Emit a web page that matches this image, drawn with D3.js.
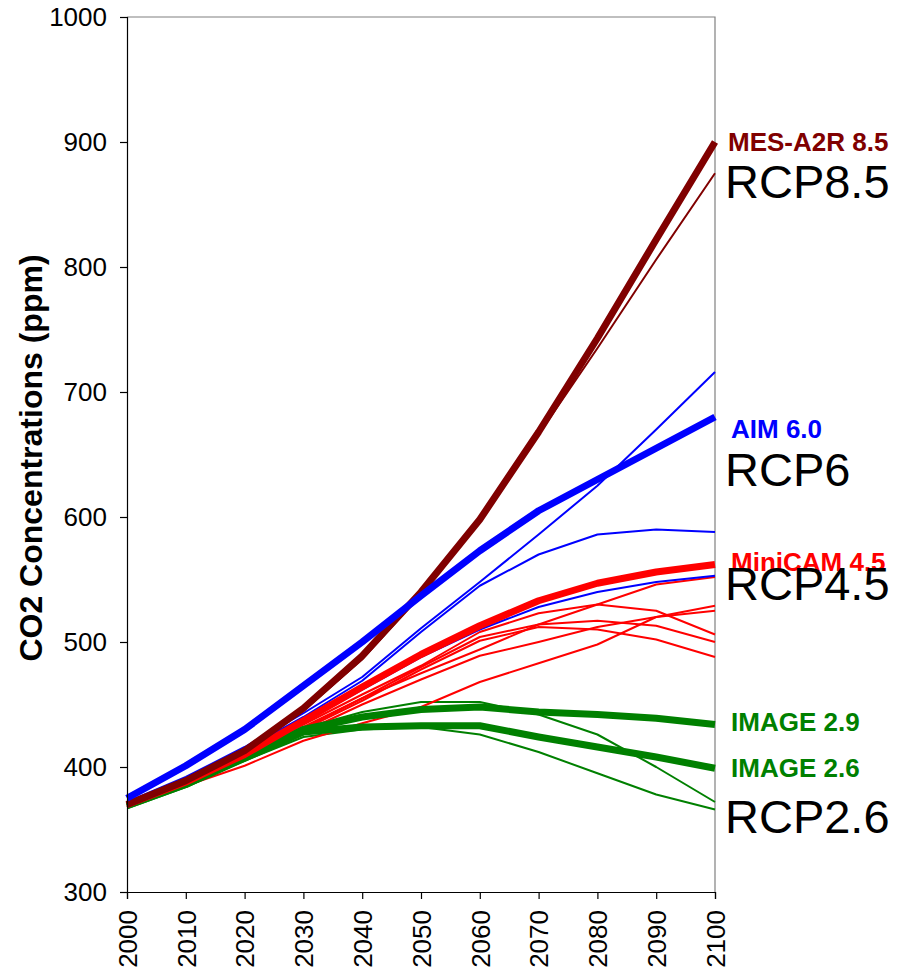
<!DOCTYPE html>
<html>
<head>
<meta charset="utf-8">
<script src="https://cdn.jsdelivr.net/npm/d3@7"></script>
<style>
  html, body { margin: 0; padding: 0; background: #fff; }
  svg { display: block; font-family: Arial, "Liberation Sans", sans-serif; }
</style>
</head>
<body>
<svg id="chart" width="900" height="974"></svg>
<script>
// Decades of the projection period
const years = [2000, 2010, 2020, 2030, 2040, 2050, 2060, 2070, 2080, 2090, 2100];
const yTicks = [300, 400, 500, 600, 700, 800, 900, 1000];

// Marker scenarios (thick lines), CO2 concentration in ppm
const mesA2R85   = [370, 389, 413, 447, 489, 540, 598, 668, 743, 822, 900];
const aim60      = [375, 401, 430, 465, 500, 537, 573, 605, 630, 655, 680];
const miniCam45  = [370, 388, 410, 437, 464, 490, 513, 533, 547, 556, 562];
const image29    = [369, 386, 408, 430, 440, 446, 448, 444, 442, 439, 434];
const image26    = [369, 386, 407, 428, 432, 433, 433, 424, 416, 408, 399];

// Other model runs in each family (thin lines)
const rcp85Other = [369, 388, 412, 445, 486, 538, 597, 666, 735, 806, 875];
const rcp6OtherA = [372, 392, 416, 443, 472, 511, 548, 586, 625, 670, 716];
const rcp6OtherB = [371, 391, 414, 440, 469, 508, 545, 570, 586, 590, 588];
const rcp6OtherC = [370, 388, 410, 436, 462, 488, 510, 528, 540, 548, 553];
const rcp45OtherA = [369, 387, 408, 432, 455, 475, 494, 514, 530, 546, 552];
const rcp45OtherB = [369, 387, 409, 434, 458, 481, 508, 523, 530, 525, 506];
const rcp45OtherC = [369, 386, 407, 431, 455, 480, 504, 514, 517, 513, 500];
const rcp45OtherD = [369, 386, 407, 430, 453, 478, 501, 512, 510, 502, 488];
const rcp45OtherE = [368, 386, 406, 428, 450, 470, 489, 500, 512, 520, 525];
const rcp45OtherF = [368, 385, 401, 421, 435, 448, 468, 483, 498, 520, 529];
const rcp26OtherA = [369, 386, 408, 431, 444, 452, 452, 442, 426, 400, 372];
const rcp26OtherB = [368, 385, 405, 424, 430, 432, 426, 412, 395, 378, 366];

const colors = { rcp85: "#800000", rcp6: "#0000ff", rcp45: "#ff0000", rcp26: "#008000" };

const thinSeries = [
  { values: rcp26OtherA, color: colors.rcp26 },
  { values: rcp26OtherB, color: colors.rcp26 },
  { values: rcp45OtherA, color: colors.rcp45 },
  { values: rcp45OtherB, color: colors.rcp45 },
  { values: rcp45OtherC, color: colors.rcp45 },
  { values: rcp45OtherD, color: colors.rcp45 },
  { values: rcp45OtherE, color: colors.rcp45 },
  { values: rcp45OtherF, color: colors.rcp45 },
  { values: rcp6OtherA, color: colors.rcp6 },
  { values: rcp6OtherB, color: colors.rcp6 },
  { values: rcp6OtherC, color: colors.rcp6 },
  { values: rcp85Other, color: colors.rcp85 }
];

const thickSeries = [
  { values: image29, color: colors.rcp26 },
  { values: image26, color: colors.rcp26 },
  { values: miniCam45, color: colors.rcp45 },
  { values: mesA2R85, color: colors.rcp85 },
  { values: aim60, color: colors.rcp6 }
];

// Scenario labels at the right edge
const modelLabels = [
  { text: "MES-A2R 8.5", color: colors.rcp85, x: 728, y: 151 },
  { text: "AIM 6.0",     color: colors.rcp6,  x: 731, y: 438 },
  { text: "MiniCAM 4.5", color: colors.rcp45, x: 731, y: 571 },
  { text: "IMAGE 2.9",   color: colors.rcp26, x: 731, y: 731 },
  { text: "IMAGE 2.6",   color: colors.rcp26, x: 731, y: 777 }
];
const rcpLabels = [
  { text: "RCP8.5", x: 725, y: 198 },
  { text: "RCP6",   x: 725, y: 486 },
  { text: "RCP4.5", x: 725, y: 600 },
  { text: "RCP2.6", x: 725, y: 833 }
];

const svg = d3.select("#chart");
const plot = { left: 127, right: 715, top: 17, bottom: 892 };

const x = d3.scaleLinear().domain([2000, 2100]).range([plot.left, plot.right]);
const y = d3.scaleLinear().domain([300, 1000]).range([plot.bottom, plot.top]);

// Plot-area frame (top and right edges)
svg.append("path")
  .attr("d", `M${plot.left},${plot.top}H${plot.right}V${plot.bottom}`)
  .attr("fill", "none")
  .attr("stroke", "#808080")
  .attr("stroke-width", 1.2);

const line = d3.line()
  .x((d, i) => x(years[i]))
  .y(d => y(d));

svg.append("g").selectAll("path")
  .data(thinSeries)
  .join("path")
  .attr("d", d => line(d.values))
  .attr("fill", "none")
  .attr("stroke", d => d.color)
  .attr("stroke-width", 2)
  .attr("stroke-linejoin", "round");

svg.append("g").selectAll("path")
  .data(thickSeries)
  .join("path")
  .attr("d", d => line(d.values))
  .attr("fill", "none")
  .attr("stroke", d => d.color)
  .attr("stroke-width", 7)
  .attr("stroke-linejoin", "round");

// Y axis
const yAxis = svg.append("g")
  .attr("transform", `translate(${plot.left},0)`)
  .call(d3.axisLeft(y).tickValues(yTicks).tickSize(7).tickPadding(13).tickFormat(d3.format("d")));
yAxis.selectAll("text").attr("font-size", 26).attr("fill", "#000")
  .attr("font-family", 'Arial, "Liberation Sans", sans-serif');
yAxis.selectAll("line, path").attr("stroke", "#000").attr("stroke-width", 1.2);

// X axis with vertical year labels
const xAxis = svg.append("g")
  .attr("transform", `translate(0,${plot.bottom})`)
  .call(d3.axisBottom(x).tickValues(years).tickSize(7).tickFormat(d3.format("d")));
xAxis.selectAll("line, path").attr("stroke", "#000").attr("stroke-width", 1.2);
xAxis.selectAll("text")
  .attr("font-size", 26).attr("fill", "#000")
  .attr("font-family", 'Arial, "Liberation Sans", sans-serif')
  .attr("transform", "rotate(-90)")
  .attr("text-anchor", "end")
  .attr("x", -18)
  .attr("y", 0)
  .attr("dy", "0.36em");

// Y axis title
svg.append("text")
  .attr("transform", "translate(42,458) rotate(-90)")
  .attr("text-anchor", "middle")
  .attr("font-size", 32)
  .attr("font-weight", "bold")
  .attr("fill", "#000")
  .text("CO2 Concentrations (ppm)");

svg.append("g").selectAll("text")
  .data(modelLabels)
  .join("text")
  .attr("x", d => d.x)
  .attr("y", d => d.y)
  .attr("fill", d => d.color)
  .attr("font-size", 26)
  .attr("font-weight", "bold")
  .text(d => d.text);

svg.append("g").selectAll("text")
  .data(rcpLabels)
  .join("text")
  .attr("x", d => d.x)
  .attr("y", d => d.y)
  .attr("fill", "#000")
  .attr("font-size", 47)
  .text(d => d.text);
</script>
</body>
</html>
